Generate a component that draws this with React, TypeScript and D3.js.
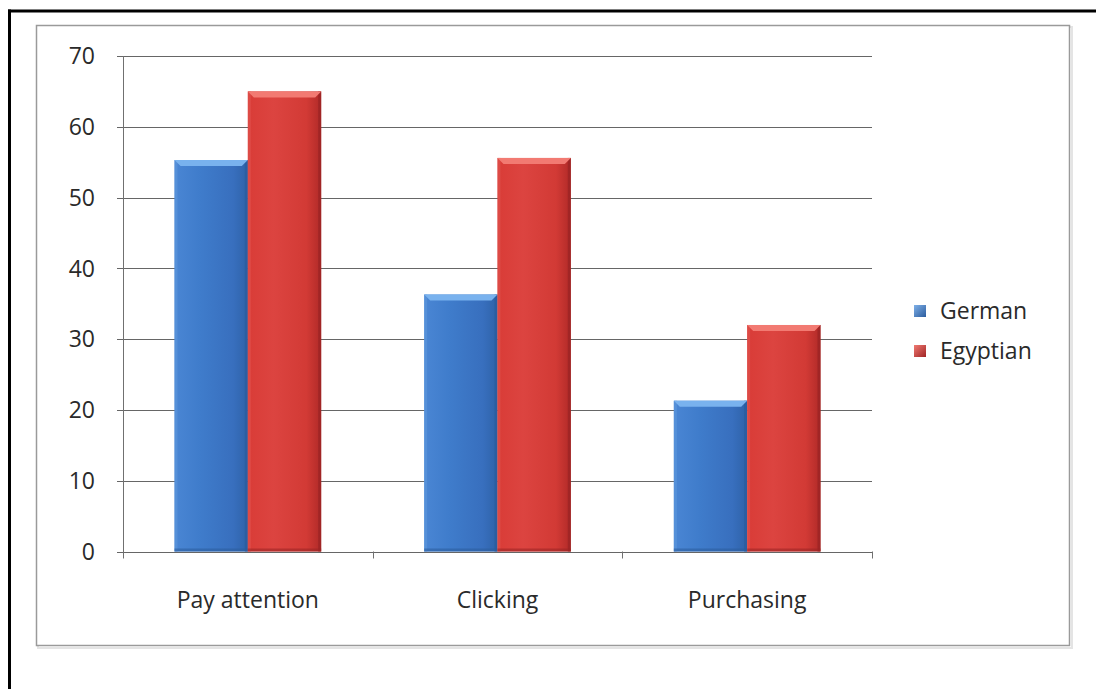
import React from "react";
import * as d3 from "d3";

const categories = ["Pay attention", "Clicking", "Purchasing"];
const seriesNames = ["German", "Egyptian"];
const germanValues = [55.3, 36.3, 21.3];
const egyptianValues = [65, 55.6, 32];
const yTicks = [0, 10, 20, 30, 40, 50, 60, 70];

const W = 1096;
const H = 689;
const FONT = "'Open Sans', 'Liberation Sans', sans-serif";

const plotLeft = 123;
const plotRight = 872;
const plotTop = 56;
const plotBottom = 551.5;

export default function App() {
  const y = d3.scaleLinear().domain([0, 70]).range([plotBottom, plotTop]);
  const x0 = d3.scaleBand<string>().domain(categories).range([plotLeft, plotRight]).padding(0);
  const bw = x0.bandwidth();
  const x1 = d3
    .scaleBand<string>()
    .domain(seriesNames)
    .range([51.5, bw - 51.5])
    .paddingInner(0);
  const barW = x1.bandwidth();
  const seriesData = [germanValues, egyptianValues];
  const grads = ["gBlue", "gRed"];
  const tops = ["#79b2ee", "#f27a72"];
  const rightEdge = ["#2b5d9f", "#9c2424"];
  const leftEdge = ["#5d97dc", "#e0544e"];

  const boundaries = [...categories.map((c) => x0(c) as number), plotRight];

  return (
    <svg
      width={W}
      height={H}
      style={{ position: "absolute", left: 0, top: 0, background: "#fff" }}
      fontFamily={FONT}
    >
      <defs>
        <linearGradient id="gBlue" x1="0" x2="1" y1="0" y2="0">
          <stop offset="0" stopColor="#4a86d4" />
          <stop offset="0.35" stopColor="#3f7ccb" />
          <stop offset="0.8" stopColor="#386fbe" />
          <stop offset="1" stopColor="#2e62a8" />
        </linearGradient>
        <linearGradient id="gRed" x1="0" x2="1" y1="0" y2="0">
          <stop offset="0" stopColor="#d93c37" />
          <stop offset="0.35" stopColor="#dc4440" />
          <stop offset="0.8" stopColor="#d23a35" />
          <stop offset="1" stopColor="#b02a28" />
        </linearGradient>
        <linearGradient id="legBlue" x1="0" x2="1" y1="0" y2="1">
          <stop offset="0" stopColor="#7fb0e8" />
          <stop offset="1" stopColor="#2c5c9e" />
        </linearGradient>
        <linearGradient id="legRed" x1="0" x2="1" y1="0" y2="1">
          <stop offset="0" stopColor="#f07a72" />
          <stop offset="1" stopColor="#a02424" />
        </linearGradient>
      </defs>

      {/* black outer frame (top + left) */}
      <line x1={8} x2={W} y1={11} y2={11} stroke="#000" strokeWidth={3} />
      <line x1={9.5} x2={9.5} y1={9.5} y2={H} stroke="#000" strokeWidth={3} />

      {/* chart box with light shadow */}
      <rect x={38} y={27} width={1034} height={621} fill="none" stroke="#e4e4e4" strokeWidth={2} />
      <rect x={36.5} y={25.5} width={1033} height={620} fill="#fff" stroke="#9a9a9a" strokeWidth={1.5} />

      {/* gridlines */}
      {yTicks.map((t) => (
        <line
          key={"g" + t}
          x1={plotLeft - 6}
          x2={plotRight}
          y1={Math.round(y(t)) + 0.5}
          y2={Math.round(y(t)) + 0.5}
          stroke="#666"
          strokeWidth={1}
        />
      ))}
      {/* y axis */}
      <line x1={plotLeft + 0.5} x2={plotLeft + 0.5} y1={plotTop} y2={plotBottom + 1} stroke="#707070" />
      {/* x category ticks */}
      {boundaries.map((b, i) => (
        <line
          key={"xt" + i}
          x1={Math.round(b) + 0.5}
          x2={Math.round(b) + 0.5}
          y1={plotBottom}
          y2={plotBottom + 7}
          stroke="#707070"
        />
      ))}

      {/* bars */}
      {categories.map((c, ci) =>
        seriesNames.map((s, si) => {
          const v = seriesData[si][ci];
          const bx = (x0(c) as number) + (x1(s) as number);
          const by = y(v);
          const bh = plotBottom - by;
          const bev = 6;
          return (
            <g key={c + s}>
              <rect x={bx} y={by} width={barW} height={bh} fill={`url(#${grads[si]})`} />
              <rect x={bx} y={by} width={3} height={bh} fill={leftEdge[si]} opacity={0.6} />
              <rect x={bx + barW - 3} y={by} width={3} height={bh} fill={rightEdge[si]} opacity={0.8} />
              <polygon
                points={`${bx},${by} ${bx + barW},${by} ${bx + barW - bev},${by + bev} ${bx + bev},${by + bev}`}
                fill={tops[si]}
              />
              <rect x={bx} y={plotBottom - 3} width={barW} height={3} fill={rightEdge[si]} opacity={0.6} />
            </g>
          );
        })
      )}

      {/* y tick labels */}
      {yTicks.map((t) => (
        <text
          key={"yl" + t}
          x={95}
          y={y(t)}
          dy="0.36em"
          textAnchor="end"
          fontSize={23}
          fill="#2a2a2a"
        >
          {t}
        </text>
      ))}

      {/* category labels */}
      {categories.map((c) => (
        <text
          key={"cl" + c}
          x={(x0(c) as number) + bw / 2}
          y={608}
          textAnchor="middle"
          fontSize={23}
          fill="#2a2a2a"
        >
          {c}
        </text>
      ))}

      {/* legend */}
      {seriesNames.map((s, i) => (
        <g key={"leg" + s} transform={`translate(914, ${305 + i * 40})`}>
          <rect x={0} y={0} width={12} height={12} fill={i === 0 ? "url(#legBlue)" : "url(#legRed)"} />
          <text x={26} y={14} fontSize={23} fill="#2a2a2a">
            {s}
          </text>
        </g>
      ))}
    </svg>
  );
}
